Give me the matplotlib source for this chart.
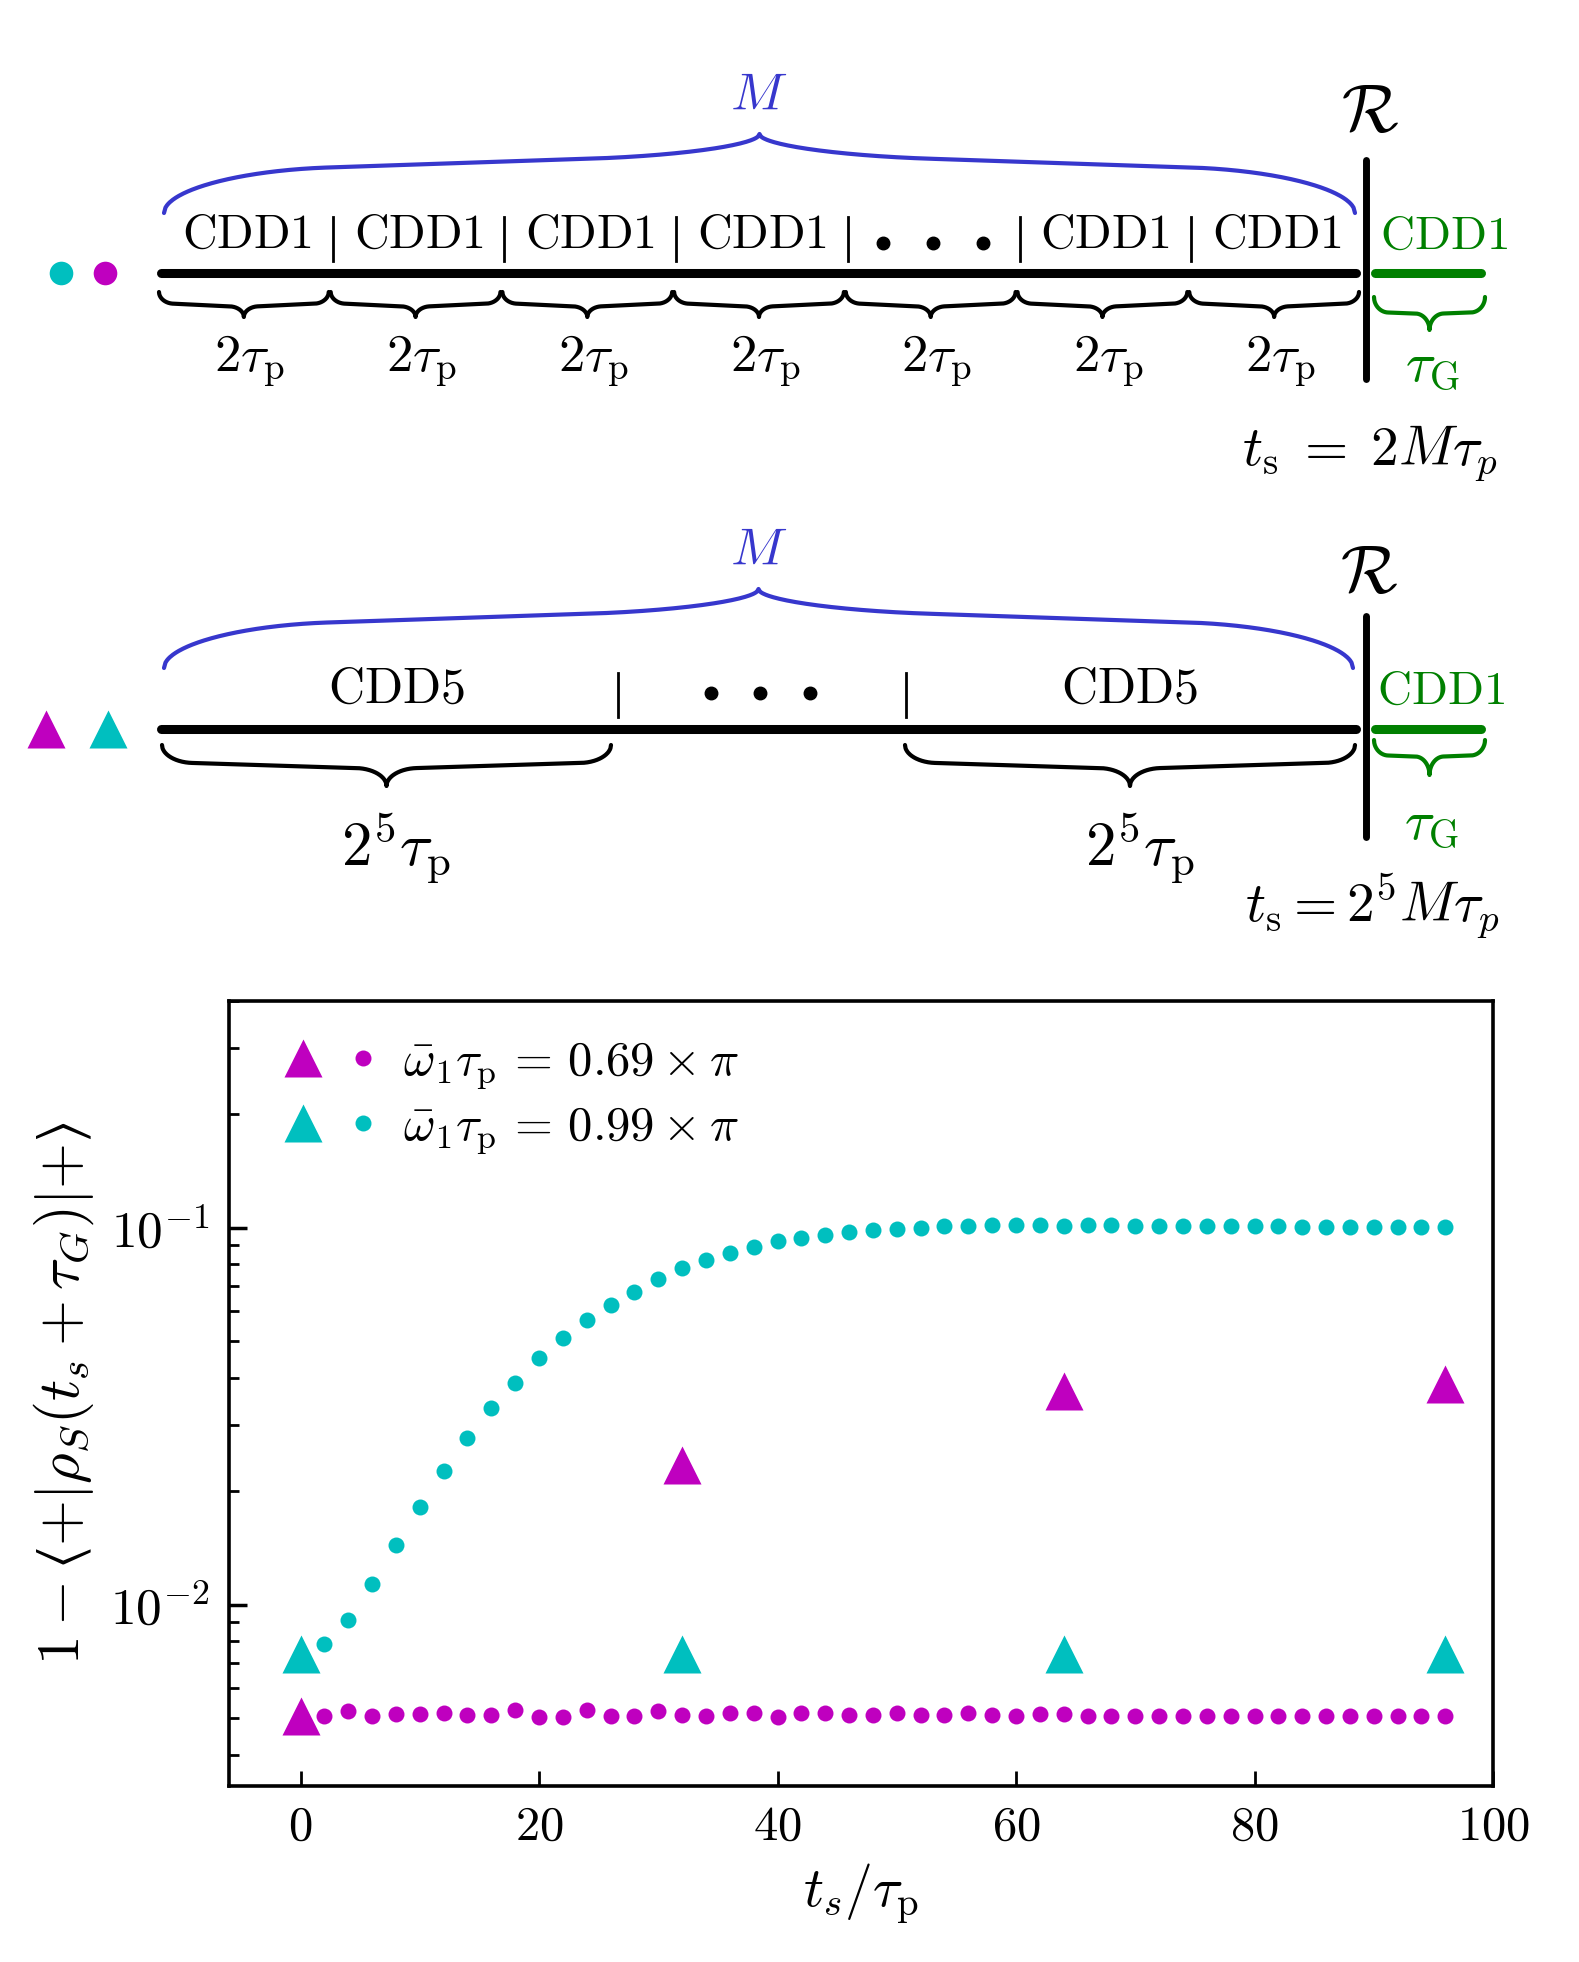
import numpy as np
import matplotlib
matplotlib.use('Agg')
import matplotlib.pyplot as plt
import matplotlib.ticker as mticker
from matplotlib.legend_handler import HandlerTuple

plt.rcParams['mathtext.fontset'] = 'cm'
plt.rcParams['font.family'] = 'serif'
plt.rcParams['font.serif'] = ['DejaVu Serif']

CYAN = (0.0, 0.75, 0.75)
MAGENTA = (0.75, 0.0, 0.75)
BLUE = '#3737cd'
GREEN = 'green'

# ---- values ----
t_dots = [2, 4, 6, 8, 10, 12, 14, 16, 18, 20, 22, 24, 26, 28, 30, 32,
          34, 36, 38, 40, 42, 44, 46, 48, 50, 52, 54, 56, 58, 60, 62, 64,
          66, 68, 70, 72, 74, 76, 78, 80, 82, 84, 86, 88, 90, 92, 94, 96]
dots_069 = [0.00507, 0.00521, 0.00507, 0.00512, 0.00512, 0.00517, 0.00509, 0.00509,
            0.00525, 0.00504, 0.00504, 0.00525, 0.00505, 0.00505, 0.00521, 0.00509,
            0.00505, 0.00517, 0.00514, 0.00504, 0.00514, 0.00516, 0.00510, 0.00510,
            0.00516, 0.00510, 0.00510, 0.00514, 0.00508, 0.00506, 0.00513, 0.00513,
            0.00506, 0.00506, 0.00506, 0.00506, 0.00506, 0.00506, 0.00506, 0.00506,
            0.00506, 0.00506, 0.00506, 0.00506, 0.00506, 0.00506, 0.00506, 0.00506]
dots_099 = [0.00785, 0.00912, 0.01135, 0.01438, 0.01812, 0.02257, 0.0277, 0.0332,
            0.0388, 0.0451, 0.0510, 0.0568, 0.0625, 0.0676, 0.0730, 0.0780,
            0.0821, 0.0857, 0.0891, 0.0921, 0.0938, 0.0960, 0.0976, 0.0988,
            0.0995, 0.1000, 0.1009, 0.1009, 0.1015, 0.1015, 0.1015, 0.1013,
            0.1015, 0.1015, 0.1009, 0.1009, 0.1009, 0.1009, 0.1009, 0.1009,
            0.1009, 0.1003, 0.1003, 0.1003, 0.1003, 0.1003, 0.1003, 0.1003]
t_tri = [0, 32, 64, 96]
tri_069 = [0.00506, 0.0235, 0.0369, 0.0385]
tri_099 = [0.0074, 0.0074, 0.0074, 0.0074]
labels = [r'$\bar{\omega}_1\tau_{\rm p} \,=\, 0.69 \times \pi$',
          r'$\bar{\omega}_1\tau_{\rm p} \,=\, 0.99 \times \pi$']
xticks = [0, 20, 40, 60, 80, 100]

W, H = 1579, 1962
fig = plt.figure(figsize=(W / 100, H / 100), dpi=100)


def brace(ax, x0, x1, y, h_end, h_mid, h_tip, s_end, s_tip, color, lw, up):
    # curly brace: quarter ellipse at the end, gentle slope, quarter ellipse into the tip
    D = (x1 - x0) / 2.
    d = np.linspace(0, D, 400)
    w = np.clip(d / s_end, 0, 1)
    u = np.clip((D - d) / s_tip, 0, 1)
    p = (h_end * np.sqrt(1 - (1 - w)**2) + h_mid * d / D
         + h_tip * (1 - np.sqrt(1 - (1 - u)**2)))
    xs = np.concatenate([x0 + d, x1 - d[::-1]])
    ps = np.concatenate([p, p[::-1]])
    sign = -1 if up else 1
    ax.plot(xs, y + sign * ps, color=color, lw=lw, solid_capstyle='round',
            solid_joinstyle='round')


# ---- sketch of the pulse sequences (pixel coordinates) ----
dax = fig.add_axes([0, 0, 1, 1])
dax.set_xlim(0, W)
dax.set_ylim(H, 0)
dax.axis('off')

# row 1 : CDD1 repeated M times
y1 = 272.5
edges = np.linspace(158, 1360, 8)
seg_names = [r'$\mathrm{CDD1}$'] * 4 + [None] + [r'$\mathrm{CDD1}$'] * 2
dax.plot([60.5], [y1], 'o', color=CYAN, ms=17, mec='none')
dax.plot([105], [y1], 'o', color=MAGENTA, ms=17, mec='none')
dax.plot([161, 1356], [y1, y1], color='k', lw=6.5, solid_capstyle='round')
dax.plot([1375, 1481], [y1, y1], color=GREEN, lw=6.5, solid_capstyle='round')
dax.plot([1366, 1366], [160, 379], color='k', lw=5, solid_capstyle='round')
for i in range(7):
    xc = (edges[i] + edges[i + 1]) / 2
    if seg_names[i] is None:
        dax.plot([xc - 48, xc + 2, xc + 52], [243] * 3, 'o', color='k', ms=9)
    else:
        dax.text(xc + 3, 234, seg_names[i], ha='center', va='center', fontsize=34.5)
    brace(dax, edges[i] + 1, edges[i + 1] - 1, 292, 11, 4, 10, 14, 14, 'k', 3.0, False)
    dax.text(xc + 6, 361, r'$2\tau_{\rm p}$', ha='center', va='center', fontsize=38)
for xs in edges[1:-1]:
    dax.plot([xs + 3, xs + 3], [217, 261], color='k', lw=2)
brace(dax, 164, 1355, 213, 40, 20, 19, 164, 170, BLUE, 3, True)
dax.text(759, 95, r'$M$', color=BLUE, ha='center', va='center', fontsize=38)
dax.text(1370, 113, r'$\mathcal{R}$', ha='center', va='center', fontsize=48)
dax.text(1444, 236, r'$\mathrm{CDD1}$', color=GREEN, ha='center', va='center', fontsize=34)
brace(dax, 1374, 1485, 297, 15, 2, 16, 14, 14, GREEN, 3.0, False)
dax.text(1432, 365, r'$\tau_{\rm G}$', color=GREEN, ha='center', va='center', fontsize=40)
dax.text(1370, 453, r'$t_{\rm s} \;=\; 2M\tau_p$', ha='center', va='center', fontsize=40)

# row 2 : CDD5 repeated M times
y2 = 729
dax.plot([46], [y2], '^', color=MAGENTA, ms=28, mec='none')
dax.plot([108], [y2], '^', color=CYAN, ms=28, mec='none')
dax.plot([161, 1356], [y2, y2], color='k', lw=6.5, solid_capstyle='round')
dax.plot([1375, 1481], [y2, y2], color=GREEN, lw=6.5, solid_capstyle='round')
dax.plot([1366, 1366], [616, 837], color='k', lw=5, solid_capstyle='round')
for x0, x1, xl, xb in [(162, 611, 396, 396), (905, 1355, 1129, 1140)]:
    dax.text(xl, 689, r'$\mathrm{CDD5}$', ha='center', va='center', fontsize=36)
    brace(dax, x0, x1, 745, 17, 7, 17, 30, 30, 'k', 3.0, False)
    dax.text(xb, 848, r'$2^5\tau_{\rm p}$', ha='center', va='center', fontsize=44)
for xs in [618, 906]:
    dax.plot([xs, xs], [673, 717], color='k', lw=2)
dax.plot([711, 760, 810], [693] * 3, 'o', color='k', ms=9)
brace(dax, 164, 1353, 668, 40, 20, 19, 164, 170, BLUE, 3, True)
dax.text(759, 550, r'$M$', color=BLUE, ha='center', va='center', fontsize=38)
dax.text(1369, 574, r'$\mathcal{R}$', ha='center', va='center', fontsize=48)
dax.text(1441, 691, r'$\mathrm{CDD1}$', color=GREEN, ha='center', va='center', fontsize=34)
brace(dax, 1374, 1485, 740, 15, 2, 18, 14, 14, GREEN, 3.0, False)
dax.text(1431, 823, r'$\tau_{\rm G}$', color=GREEN, ha='center', va='center', fontsize=40)
dax.text(1372, 906, r'$t_{\rm s} = 2^5M\tau_p$', ha='center', va='center', fontsize=40)

# ---- lower panel ----
ax = fig.add_axes([229 / W, 1 - 1786 / H, (1493 - 229) / W, (1786 - 1001) / H])
tm, = ax.plot(t_tri, tri_069, '^', color=MAGENTA, ms=28, mec='none', zorder=3)
dm, = ax.plot(t_dots, dots_069, 'o', color=MAGENTA, ms=11.5, mec='none')
tc, = ax.plot(t_tri, tri_099, '^', color=CYAN, ms=28, mec='none', zorder=3)
dc, = ax.plot(t_dots, dots_099, 'o', color=CYAN, ms=11.5, mec='none')

ax.set_yscale('log')
ax.set_xlim(-6, 100)
ax.set_ylim(3.3e-3, 0.4)
ax.set_xticks(xticks)
ax.xaxis.set_major_formatter(mticker.FuncFormatter(lambda v, p: r'$%d$' % v))
ax.yaxis.set_major_formatter(mticker.FuncFormatter(lambda v, p: r'$10^{%d}$' % round(np.log10(v))))
ax.yaxis.set_minor_formatter(mticker.NullFormatter())
ax.tick_params(which='both', direction='in', top=False, right=False, labelsize=35)
ax.tick_params(axis='y', which='major', length=13, width=2.5, pad=14, labelsize=37)
ax.tick_params(axis='y', which='minor', length=7.5, width=2)
ax.tick_params(axis='x', which='major', length=11, width=2, pad=12)
for sp in ax.spines.values():
    sp.set_linewidth(2.6)

ax.set_xlabel(r'$t_s/\tau_{\rm p}$', fontsize=40, labelpad=8)
ax.set_ylabel('$1 - \u27e8{+}|\\rho_S(t_s + \\tau_G)|{+}\u27e9$', fontsize=42.5, labelpad=10)

ax.legend([(tm, dm), (tc, dc)], labels,
          handler_map={tuple: HandlerTuple(ndivide=None, pad=0.24)},
          loc='upper left', bbox_to_anchor=(0.0245, 0.978), borderaxespad=0,
          frameon=False, fontsize=35, handlelength=2.2,
          handletextpad=0.35, labelspacing=0.25)

fig.savefig('out.png', dpi=100)
